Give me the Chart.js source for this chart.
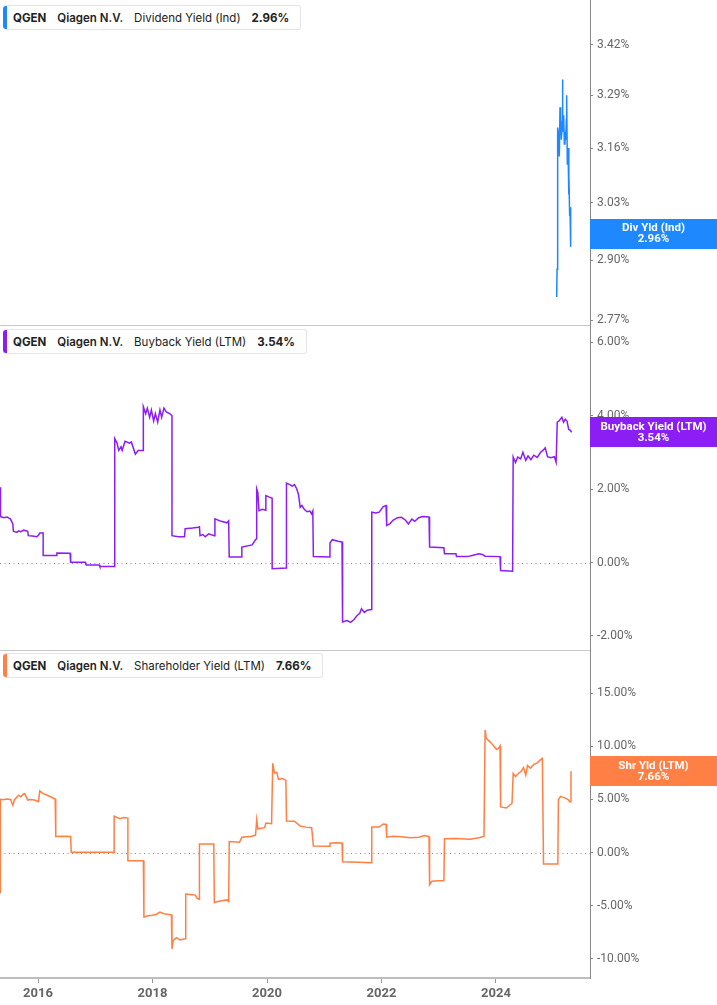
<!DOCTYPE html>
<html>
<head>
<meta charset="utf-8">
<script src="https://cdn.jsdelivr.net/npm/chart.js@4.4.1/dist/chart.umd.min.js"></script>
<style>
  body { margin: 0; background: #fff; }
  #wrap { position: relative; width: 717px; height: 1005px; overflow: hidden; }
  canvas { position: absolute; left: 0; }
  .tag {
    position: absolute; left: 3px; height: 25px; display: flex; align-items: center;
    background: #fff; border: 1px solid #e4e4e4; border-left: none; border-radius: 3px;
    font-family: Inter, "Noto Sans", sans-serif; font-size: 11.5px; color: #222; white-space: nowrap;
    padding-right: 11px; box-sizing: border-box;
  }
  .tag .bar { width: 4px; height: 100%; border-radius: 3px 0 0 3px; margin-right: 6px; }
  .tag b { font-weight: 700; }
  .tag .co { font-weight: 600; margin-left: 11px; }
  .tag .me { margin-left: 11px; }
  .tag .val { margin-left: 11px; }
</style>
</head>
<body>
<div id="wrap">
  <canvas id="c1" width="717" height="325" style="top:0"></canvas>
  <canvas id="c2" width="717" height="325" style="top:325px"></canvas>
  <canvas id="c3" width="717" height="355" style="top:650px"></canvas>
  <div class="tag" style="top:5px"><span class="bar" style="background:#1e88ff"></span><b>QGEN</b><span class="co">Qiagen N.V.</span><span class="me">Dividend Yield (Ind)</span><b class="val">2.96%</b></div>
  <div class="tag" style="top:329px"><span class="bar" style="background:#8a1ef5"></span><b>QGEN</b><span class="co">Qiagen N.V.</span><span class="me">Buyback Yield (LTM)</span><b class="val">3.54%</b></div>
  <div class="tag" style="top:653px"><span class="bar" style="background:#ff7f45"></span><b>QGEN</b><span class="co">Qiagen N.V.</span><span class="me">Shareholder Yield (LTM)</span><b class="val">7.66%</b></div>
</div>
<script>
// x range in decimal years
const xMin = 2015.336, xMax = 2025.642;
const yearTicks = [2016, 2018, 2020, 2022, 2024];
const divTicks = [2.77, 2.90, 3.03, 3.16, 3.29, 3.42];
const buyTicks = [-2, 0, 2, 4, 6];
const shrTicks = [-10, -5, 0, 5, 10, 15];

// Dividend yield (Ind), %
const divDates = [2025.060, 2025.066, 2025.071, 2025.077, 2025.083, 2025.095, 2025.106, 2025.118, 2025.130, 2025.141,
  2025.153, 2025.159, 2025.170, 2025.182, 2025.194, 2025.205, 2025.217, 2025.229, 2025.234, 2025.246,
  2025.258, 2025.269, 2025.275, 2025.287, 2025.293, 2025.299, 2025.304, 2025.310];
const divValues = [2.82, 2.88, 2.90, 3.05, 3.21, 3.19, 3.14, 3.26, 3.24, 3.18,
  3.21, 3.33, 3.20, 3.24, 3.17, 3.20, 3.18, 3.23, 3.29, 3.12,
  3.16, 3.05, 3.10, 3.00, 3.02, 2.98, 2.93, 2.96];

// Buyback yield (LTM), %
const buyDates = [2015.336, 2015.345, 2015.345, 2015.40, 2015.46, 2015.52, 2015.56, 2015.57, 2015.63, 2015.66,
  2015.70, 2015.75, 2015.82, 2015.83, 2015.90, 2015.98, 2016.01, 2016.03, 2016.09, 2016.09,
  2016.32, 2016.33, 2016.56, 2016.57, 2016.83, 2016.84, 2017.07, 2017.08, 2017.34, 2017.34,
  2017.38, 2017.41, 2017.45, 2017.47, 2017.52, 2017.60, 2017.63, 2017.70, 2017.75, 2017.84,
  2017.84, 2017.88, 2017.91, 2017.95, 2017.98, 2018.02, 2018.05, 2018.09, 2018.13, 2018.16,
  2018.20, 2018.24, 2018.30, 2018.34, 2018.34, 2018.45, 2018.56, 2018.57, 2018.70, 2018.80,
  2018.82, 2018.83, 2018.88, 2018.92, 2018.98, 2019.08, 2019.09, 2019.20, 2019.30, 2019.33,
  2019.34, 2019.55, 2019.56, 2019.74, 2019.80, 2019.82, 2019.82, 2019.84, 2019.86, 2019.92,
  2019.98, 2019.98, 2020.04, 2020.09, 2020.09, 2020.34, 2020.34, 2020.40, 2020.44, 2020.48,
  2020.52, 2020.55, 2020.58, 2020.61, 2020.65, 2020.70, 2020.75, 2020.78, 2020.80, 2020.81,
  2021.10, 2021.10, 2021.14, 2021.24, 2021.31, 2021.32, 2021.40, 2021.46, 2021.52, 2021.57,
  2021.62, 2021.65, 2021.70, 2021.75, 2021.82, 2021.83, 2021.90, 2021.96, 2022.03, 2022.08,
  2022.09, 2022.15, 2022.20, 2022.28, 2022.35, 2022.42, 2022.47, 2022.53, 2022.58, 2022.65,
  2022.72, 2022.83, 2022.84, 2023.09, 2023.10, 2023.30, 2023.31, 2023.50, 2023.60, 2023.70,
  2023.76, 2023.81, 2024.07, 2024.08, 2024.29, 2024.30, 2024.34, 2024.38, 2024.43, 2024.47,
  2024.52, 2024.56, 2024.61, 2024.66, 2024.72, 2024.78, 2024.82, 2024.86, 2024.90, 2024.96,
  2025.02, 2025.05, 2025.07, 2025.10, 2025.15, 2025.18, 2025.21, 2025.24, 2025.27, 2025.30,
  2025.32];
const buyValues = [2.05, 2.05, 1.25, 1.22, 1.24, 1.18, 1.05, 0.85, 0.82, 0.86,
  0.84, 0.88, 0.85, 0.73, 0.72, 0.70, 0.75, 0.80, 0.80, 0.19,
  0.19, 0.26, 0.25, 0.01, 0.01, -0.07, -0.07, -0.11, -0.11, 3.37,
  3.25, 3.05, 3.15, 3.05, 3.30, 3.25, 3.28, 2.95, 3.05, 3.05,
  4.24, 4.05, 4.20, 3.95, 4.15, 3.85, 4.05, 3.82, 4.15, 3.95,
  4.20, 4.10, 4.05, 4.00, 0.73, 0.70, 0.70, 0.92, 0.94, 0.96,
  0.97, 0.73, 0.76, 0.70, 0.78, 0.73, 1.19, 1.12, 1.08, 1.13,
  0.15, 0.15, 0.42, 0.48, 0.62, 0.65, 2.00, 1.90, 1.41, 1.45,
  1.42, 1.82, 1.78, 1.75, -0.17, -0.15, 2.16, 2.12, 2.08, 2.12,
  2.00, 1.85, 1.50, 1.55, 1.45, 1.38, 1.40, 1.32, 1.40, 0.16,
  0.15, 0.53, 0.62, 0.58, 0.56, -1.62, -1.58, -1.63, -1.55, -1.45,
  -1.38, -1.26, -1.36, -1.30, -1.28, 1.37, 1.35, 1.37, 1.52, 1.55,
  1.01, 1.06, 1.15, 1.22, 1.23, 1.15, 1.05, 1.18, 1.12, 1.22,
  1.25, 1.24, 0.42, 0.40, 0.24, 0.24, 0.16, 0.16, 0.20, 0.24,
  0.22, 0.17, 0.16, -0.22, -0.24, 2.87, 2.72, 2.87, 2.82, 3.00,
  2.78, 2.90, 2.80, 2.92, 2.86, 3.00, 3.05, 3.12, 2.88, 2.85,
  2.88, 2.73, 3.82, 3.85, 3.95, 3.82, 3.90, 3.85, 3.62, 3.60,
  3.54];

// Shareholder yield (LTM), %
const shrDates = [2015.336, 2015.34, 2015.40, 2015.45, 2015.52, 2015.56, 2015.59, 2015.66, 2015.70, 2015.74,
  2015.77, 2015.82, 2015.86, 2015.94, 2016.01, 2016.03, 2016.09, 2016.18, 2016.30, 2016.31,
  2016.45, 2016.57, 2016.58, 2017.33, 2017.33, 2017.43, 2017.50, 2017.57, 2017.57, 2017.84,
  2017.85, 2017.92, 2018.00, 2018.07, 2018.13, 2018.20, 2018.33, 2018.34, 2018.36, 2018.42,
  2018.48, 2018.57, 2018.58, 2018.66, 2018.75, 2018.78, 2018.82, 2018.82, 2019.07, 2019.08,
  2019.18, 2019.30, 2019.33, 2019.34, 2019.52, 2019.56, 2019.74, 2019.80, 2019.82, 2019.84,
  2019.96, 2019.98, 2020.08, 2020.10, 2020.13, 2020.17, 2020.20, 2020.27, 2020.33, 2020.34,
  2020.48, 2020.58, 2020.68, 2020.78, 2020.81, 2021.09, 2021.10, 2021.20, 2021.31, 2021.32,
  2021.60, 2021.82, 2021.83, 2021.96, 2022.03, 2022.08, 2022.09, 2022.20, 2022.35, 2022.50,
  2022.65, 2022.75, 2022.83, 2022.84, 2022.88, 2023.00, 2023.09, 2023.10, 2023.30, 2023.55,
  2023.70, 2023.79, 2023.81, 2023.83, 2023.90, 2023.95, 2024.01, 2024.05, 2024.07, 2024.08,
  2024.18, 2024.28, 2024.30, 2024.34, 2024.38, 2024.44, 2024.48, 2024.52, 2024.55, 2024.60,
  2024.66, 2024.72, 2024.78, 2024.81, 2024.83, 2025.08, 2025.09, 2025.13, 2025.20, 2025.26,
  2025.29, 2025.31, 2025.31];
const shrValues = [-3.76, 5.02, 4.98, 5.05, 5.00, 4.45, 4.98, 5.40, 5.25, 5.50,
  5.55, 4.95, 5.00, 4.95, 4.80, 5.80, 5.55, 5.35, 5.05, 1.52,
  1.55, 1.52, 0.03, 0.03, 3.44, 3.20, 3.30, 3.25, -0.76, -0.76,
  -6.06, -5.95, -5.90, -5.80, -5.60, -5.75, -5.85, -9.06, -8.27, -8.00,
  -8.22, -8.10, -3.90, -3.95, -4.00, -4.30, -4.40, 0.82, 0.82, -4.70,
  -4.55, -4.45, -4.60, 1.04, 0.98, 1.45, 1.55, 1.65, 3.09, 2.24,
  2.35, 2.78, 2.72, 8.40, 7.50, 7.55, 6.90, 6.98, 6.80, 2.97,
  2.95, 2.50, 2.40, 2.35, 0.63, 0.60, 0.88, 0.92, 0.90, -0.85,
  -0.90, -0.95, 2.40, 2.40, 2.70, 2.65, 1.45, 1.55, 1.50, 1.40,
  1.45, 1.60, 1.50, -3.03, -2.70, -2.65, -2.65, 1.30, 1.32, 1.25,
  1.40, 1.53, 11.55, 10.76, 10.40, 10.10, 9.70, 9.85, 10.04, 4.30,
  4.20, 4.65, 7.45, 7.15, 7.40, 7.65, 8.00, 7.30, 8.20, 7.95,
  8.30, 8.45, 8.75, 8.87, -1.07, -1.07, 4.99, 5.30, 5.15, 5.00,
  4.77, 4.80, 7.66];

// extra drawing: zero line, panel divider, value box on the right axis
const decor = {
  id: 'decor',
  beforeDatasetsDraw(chart, args, o) {
    const { ctx, chartArea: a } = chart;
    const y = chart.scales.y;
    ctx.save();
    if (o.zero) {
      const py = Math.round(y.getPixelForValue(0)) + 0.5;
      ctx.strokeStyle = '#8a8a8a';
      ctx.lineWidth = 1;
      ctx.setLineDash([1, 3.5]);
      ctx.beginPath();
      ctx.moveTo(a.left, py);
      ctx.lineTo(a.right, py);
      ctx.stroke();
      ctx.setLineDash([]);
    }
    if (o.divider) {
      ctx.strokeStyle = '#c8c8c8';
      ctx.lineWidth = 1;
      ctx.beginPath();
      ctx.moveTo(a.left, a.top + 0.5);
      ctx.lineTo(a.right, a.top + 0.5);
      ctx.stroke();
    }
    ctx.restore();
  },
  afterDraw(chart, args, o) {
    if (!o.label) return;
    const { ctx, chartArea: a } = chart;
    const data = chart.data.datasets[0].data;
    const last = data[data.length - 1].y;
    const py = chart.scales.y.getPixelForValue(last);
    ctx.save();
    ctx.fillStyle = o.color;
    ctx.fillRect(a.right, Math.round(py) - 15, chart.width - a.right, 30);
    ctx.fillStyle = '#fff';
    ctx.font = 'bold 11.5px Roboto, "Liberation Sans", sans-serif';
    ctx.textAlign = 'center';
    ctx.textBaseline = 'middle';
    const cx = (a.right + chart.width) / 2;
    ctx.fillText(o.label, cx, py - 5);
    ctx.fillText(last.toFixed(2) + '%', cx, py + 6);
    ctx.restore();
  }
};

function makeChart(id, dates, values, cfg) {
  const ctx = document.getElementById(id).getContext('2d');
  return new Chart(ctx, {
    type: 'line',
    data: {
      datasets: [{
        data: dates.map((d, i) => ({ x: d, y: values[i] })),
        borderColor: cfg.color,
        borderWidth: 1.5,
        pointRadius: 0,
        tension: 0,
        fill: false
      }]
    },
    plugins: [decor],
    options: {
      responsive: false,
      animation: false,
      events: [],
      layout: { padding: 0 },
      plugins: {
        legend: { display: false },
        tooltip: { enabled: false },
        decor: { zero: cfg.zero, divider: cfg.divider, label: cfg.label, color: cfg.color }
      },
      scales: {
        x: {
          type: 'linear',
          min: xMin,
          max: xMax,
          display: cfg.showX,
          afterBuildTicks: s => { s.ticks = yearTicks.map(v => ({ value: v })); },
          ticks: {
            callback: v => String(v),
            color: '#666',
            font: { family: 'Roboto', size: 13, weight: 'bold' },
            padding: 3,
            maxRotation: 0,
            autoSkip: false
          },
          grid: { drawOnChartArea: false, drawTicks: true, tickLength: 5, color: '#999' },
          border: { display: true, color: '#bdbdbd', width: 2 },
          afterFit: s => {
            s.height = cfg.showX ? 27 : 0;
            s.paddingLeft = 0; s.paddingRight = 0;
          }
        },
        y: {
          type: cfg.type,
          position: 'right',
          min: cfg.min,
          max: cfg.max,
          afterBuildTicks: s => { s.ticks = cfg.ticks.map(v => ({ value: v })); },
          ticks: {
            callback: v => Number(v).toFixed(2) + '%',
            color: '#666',
            font: { family: 'Roboto', size: 12 },
            padding: 4,
            autoSkip: false
          },
          grid: { drawOnChartArea: false, drawTicks: true, tickLength: 3, color: '#888' },
          border: { display: true, color: '#888', width: 1 },
          afterFit: s => {
            s.width = 127;
            s.paddingTop = 0; s.paddingBottom = 0;
          }
        }
      }
    }
  });
}

makeChart('c1', divDates, divValues, {
  color: '#1e88ff', type: 'logarithmic', min: 2.764, max: 3.539, ticks: divTicks,
  label: 'Div Yld (Ind)', zero: false, divider: false, showX: false
});
makeChart('c2', buyDates, buyValues, {
  color: '#8a1ef5', type: 'linear', min: -2.381, max: 6.463, ticks: buyTicks,
  label: 'Buyback Yield (LTM)', zero: true, divider: true, showX: false
});
makeChart('c3', shrDates, shrValues, {
  color: '#ff7f45', type: 'linear', min: -11.8, max: 19.07, ticks: shrTicks,
  label: 'Shr Yld (LTM)', zero: true, divider: true, showX: true
});
</script>
</body>
</html>
